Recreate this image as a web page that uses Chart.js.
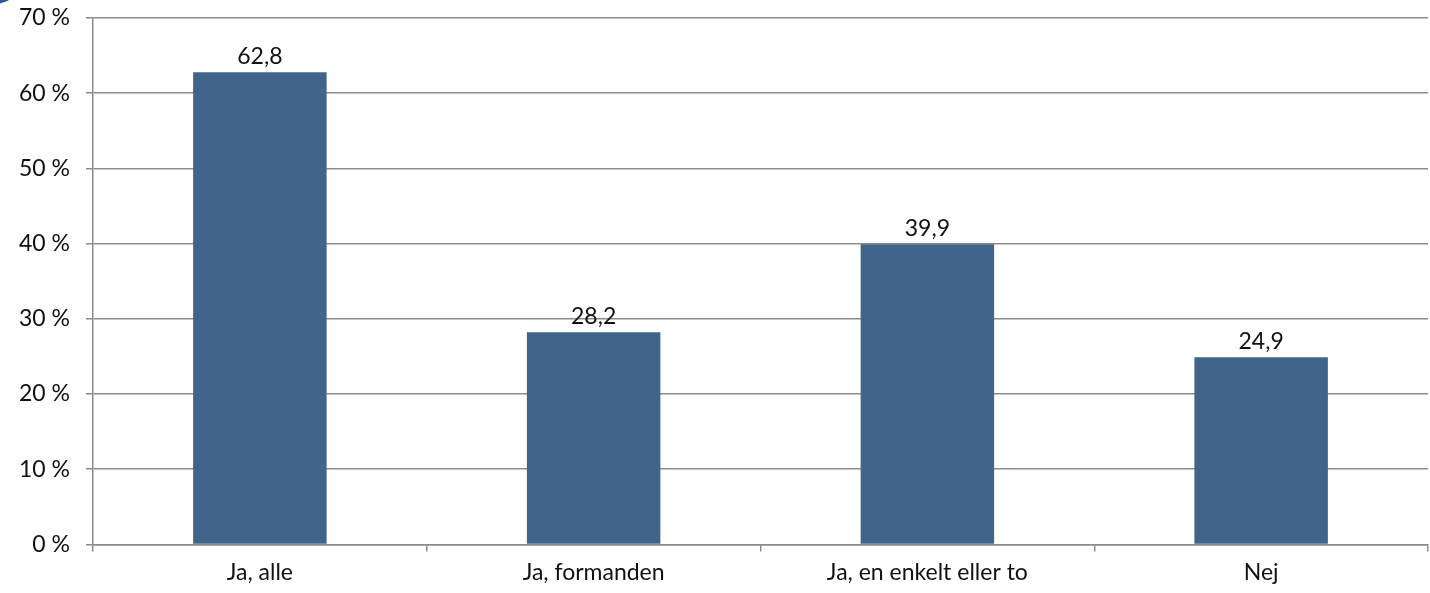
<!DOCTYPE html>
<html>
<head>
<meta charset="utf-8">
<script src="https://cdn.jsdelivr.net/npm/chart.js@4"></script>
<style>
  html, body { margin: 0; padding: 0; background: #fff; }
  #wrap { width: 1430px; height: 593px; }
</style>
</head>
<body>
<div id="wrap"><canvas id="barChart"></canvas></div>
<script>
const categories = ['Ja, alle', 'Ja, formanden', 'Ja, en enkelt eller to', 'Nej'];
const values = [62.8, 28.2, 39.9, 24.9];
const yTicks = [0, 10, 20, 30, 40, 50, 60, 70];

const barLabels = {
    id: 'barLabels',
    afterDatasetsDraw(chart) {
        const ctx = chart.ctx;
        const meta = chart.getDatasetMeta(0);
        ctx.save();
        ctx.font = '23px Lato';
        ctx.fillStyle = '#111';
        ctx.textAlign = 'center';
        ctx.textBaseline = 'bottom';
        meta.data.forEach((bar, i) => {
            ctx.fillText(values[i].toFixed(1).replace('.', ','), bar.x, bar.y - 4);
        });
        ctx.restore();
    }
};

// edge of the blue round shape peeking in at the top left corner
const cornerArc = {
    id: 'cornerArc',
    beforeDraw(chart) {
        const ctx = chart.ctx;
        ctx.save();
        ctx.fillStyle = '#2c5b92';
        ctx.beginPath();
        ctx.arc(-12, -42, 47, 0, Math.PI * 2);
        ctx.fill();
        ctx.restore();
    }
};

const ctx = document.getElementById('barChart').getContext('2d');
new Chart(ctx, {
    type: 'bar',
    data: {
        labels: categories,
        datasets: [{
            data: values,
            backgroundColor: '#41648a',
            borderWidth: 0,
            categoryPercentage: 1,
            barPercentage: 0.4
        }]
    },
    options: {
        responsive: true,
        maintainAspectRatio: false,
        animation: false,
        layout: { padding: { top: 18, right: 2, left: 3, bottom: 0 } },
        plugins: {
            legend: { display: false },
            tooltip: { enabled: false }
        },
        scales: {
            y: {
                min: 0,
                max: 70,
                afterBuildTicks(axis) {
                    axis.ticks = yTicks.map(v => ({ value: v }));
                },
                afterFit(axis) {
                    axis.paddingTop = 0;
                    axis.paddingBottom = 0;
                },
                ticks: {
                    color: '#111',
                    font: { family: 'Lato', size: 23 },
                    padding: 16,
                    callback: v => v + ' %'
                },
                grid: {
                    color: '#8c8c8c',
                    lineWidth: 1.5,
                    tickLength: 7
                },
                border: { color: '#8c8c8c', width: 1.5 }
            },
            x: {
                ticks: {
                    color: '#111',
                    font: { family: 'Lato', size: 23 },
                    padding: 7
                },
                grid: {
                    drawOnChartArea: false,
                    color: '#8c8c8c',
                    lineWidth: 1.5,
                    tickLength: 7
                },
                border: { color: '#8c8c8c', width: 1.5 }
            }
        }
    },
    plugins: [barLabels, cornerArc]
});
</script>
</body>
</html>
